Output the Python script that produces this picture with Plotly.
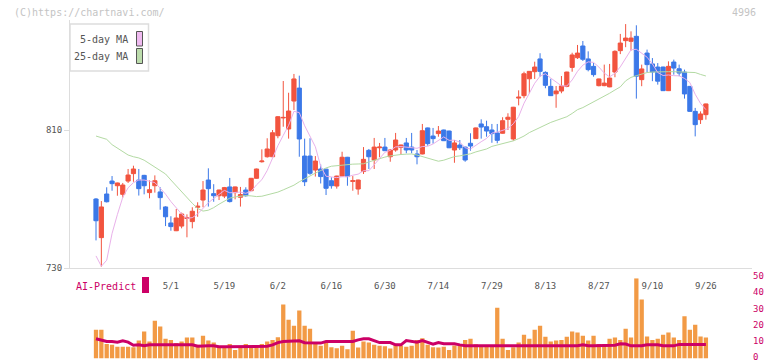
import plotly.graph_objects as go

# ---------------- data ----------------
trade_days = {
    4: [10, 11, 14, 15, 16, 17, 18, 21, 22, 23, 24, 25, 28, 30],
    5: [1, 2, 7, 8, 9, 12, 13, 14, 15, 16, 19, 20, 21, 22, 23, 26, 27, 28, 29, 30],
    6: [2, 3, 4, 5, 6, 9, 10, 11, 12, 13, 16, 17, 18, 19, 20, 23, 24, 25, 26, 27, 30],
    7: [1, 2, 3, 4, 7, 8, 9, 10, 11, 14, 15, 16, 17, 18, 22, 23, 24, 25, 28, 29, 30, 31],
    8: [1, 4, 5, 6, 7, 8, 12, 13, 14, 15, 18, 19, 20, 21, 22, 25, 26, 27, 28, 29],
    9: [1, 2, 3, 4, 5, 8, 9, 10, 11, 12, 16, 17, 18, 19, 22, 24, 25, 26],
}
dates = [f"{m}/{d}" for m, days in trade_days.items() for d in days]

tick_labels = ["5/1", "5/19", "6/2", "6/16", "6/30", "7/14", "7/29", "8/13", "8/27", "9/10", "9/26"]

open_ = [770, 747.6, 772.9, 780.4, 777.7, 772.7, 780.4, 784.7, 781, 783.7,
         773.7, 777.7, 774.1, 765.4, 756.1, 751.6, 754.3, 758.7, 756.9, 765.2,
         769.4, 781, 773.1, 771.9, 771.7, 777, 773.7, 771, 775.2, 774.8,
         782, 791.6, 794.5, 794.5, 806.7, 817, 810.6, 826.8, 834.3, 794.9,
         794.9, 786.8, 787.4, 787.3, 780.6, 777.5, 783.3, 794.2, 780.2, 775.8,
         785.9, 798.2, 792.6, 799.7, 800.1, 794.5, 798.4, 800, 802.5, 800.1,
         796.1, 796.1, 811.2, 806.5, 807.9, 810, 809.4, 798.4, 801.3, 800.1,
         802.3, 805, 813.5, 811.9, 810, 808.3, 808.1, 816.2, 804.8, 828.5,
         829.9, 839.7, 843.8, 851.2, 843.4, 835.3, 831, 832.6, 835.3, 846.3,
         851.9, 858.7, 851.2, 846.9, 835.7, 835.7, 835, 843.6, 856, 861.8,
         861.4, 864.3, 839.2, 854.6, 848.3, 846.5, 846.5, 832.8, 849.4, 845.5,
         843.6, 835.3, 820.8, 816, 818.9]
high = [770.5, 768.8, 776.8, 783.3, 779.5, 779.3, 787.4, 789.3, 787.4, 784,
        780.8, 783.7, 776.8, 765.8, 760, 764.2, 762.1, 761.1, 765.2, 768.1,
        780.4, 787.8, 778.6, 775.4, 777, 782.2, 777.2, 777, 776.8, 782.2,
        787.6, 798.8, 805.2, 810, 818.1, 838.4, 831.6, 842.5, 841.5, 805,
        805.2, 794.9, 790, 787.5, 782.6, 783.5, 797.4, 794.4, 783.3, 781.2,
        800.1, 799, 805.4, 802.5, 805.4, 799, 808.3, 801.5, 805.4, 808.3,
        798.4, 813.5, 811.4, 811.2, 812.3, 810.2, 809.6, 804.2, 804.2, 800.3,
        808.1, 811.4, 816.2, 815.4, 813.5, 813.5, 817.4, 819.7, 823.4, 833,
        843.8, 844.2, 849.6, 854.5, 844, 839.7, 835.5, 841.3, 843.8, 854.8,
        859.3, 861.6, 855.6, 848.8, 839.8, 847.9, 848.3, 856.2, 865.7, 871.4,
        867.2, 870.7, 847.9, 856.6, 851.7, 848.8, 846.7, 849.8, 850.8, 847.9,
        845, 835.5, 822.8, 820.8, 825.3]
low = [746, 730.8, 768, 774.8, 771.9, 770.8, 779.3, 780, 772, 772.7,
       770.4, 773.7, 763.8, 754.3, 751.6, 751.4, 753, 747.8, 753, 759.7,
       765.2, 765.6, 768.4, 769.4, 770.5, 768, 769.8, 765.6, 771.4, 774.6,
       781.8, 791.1, 794, 794.3, 805.2, 811.9, 805, 821.6, 794.5, 777.5,
       784, 783, 779, 772.3, 776, 776, 783, 777.7, 774.8, 772.5,
       784.5, 787.4, 787.4, 794.2, 797.8, 791.6, 797.4, 795.7, 796.5, 796.5,
       790.1, 795.9, 800.9, 802.1, 806.1, 803.6, 799.5, 791, 798.4, 791.6,
       798, 804.8, 805, 806.1, 802.6, 802.3, 807.9, 810, 803.8, 824.3,
       828.4, 831.3, 839.6, 840.9, 834.2, 829.7, 822.9, 831.3, 834.8, 843.8,
       851.2, 850, 844, 840.9, 835.3, 835.4, 834.8, 840.6, 854, 858,
       856, 828.2, 835.4, 843.6, 838.3, 836.3, 832.6, 832.6, 842.1, 841.2,
       828.2, 820.6, 806.3, 813.5, 816]
close = [757.4, 765.4, 768.4, 778.9, 779.3, 778.1, 783.9, 787.4, 776, 777.7,
         775.4, 780.6, 770.8, 759.7, 754, 759, 761.3, 759.2, 762.9, 765.8,
         775.2, 776, 771.9, 775.2, 776.6, 768.5, 777, 772.6, 771.9, 782,
         787.4, 792, 799, 808.4, 817.7, 817.3, 821, 839.6, 804.8, 780,
         784.9, 792, 783, 776.2, 777.7, 783.3, 794.2, 783, 780.6, 781,
         793, 794.5, 800.1, 800.1, 798, 798.4, 804.2, 801.3, 798.4, 798.4,
         794.5, 809.6, 802.1, 805, 809.4, 803.8, 799.7, 802.5, 799.7, 792.6,
         800.7, 811.2, 811.7, 809.4, 807.9, 804, 815.4, 817.4, 823.2, 829,
         842.6, 844, 846.5, 844, 835.9, 829.9, 832.6, 835.5, 843.6, 853.5,
         854.6, 851, 845, 842.1, 839.6, 837.2, 840.1, 855.6, 860.4, 863.3,
         863.3, 841.2, 845.4, 847.9, 843.6, 838.3, 832.8, 846.9, 845.9, 843,
         830.9, 820.8, 813.1, 819.3, 825.1]

ma5 = [737, 731, 734.5, 750, 761, 771, 776.5, 779.5, 781, 781,
       780.3, 779.5, 776.3, 772.8, 768.5, 765, 761.3, 758.8, 759.2, 761.3,
       764.7, 767.8, 770.3, 772.8, 775, 773.6, 773.8, 774, 773.3, 774.4,
       778.2, 781.2, 786.5, 793.8, 800.9, 806.9, 812.7, 820.8, 820.1, 812.5,
       806.1, 800.3, 788.9, 783.2, 782.8, 782.4, 782.9, 782.9, 783.8, 784.4,
       786.4, 786.4, 789.8, 793.7, 797.1, 798.2, 800.2, 800.4, 800.1, 800.1,
       799.4, 800.4, 800.6, 801.9, 804.1, 806, 804, 804.1, 803, 799.7,
       799, 801.3, 803.2, 805.1, 808.2, 808.8, 809.7, 810.8, 813.6, 817.8,
       825.5, 831.2, 837.1, 841.2, 842.6, 840.1, 837.8, 835.6, 835.5, 839,
       844, 847.6, 849.5, 849.2, 846.5, 843, 840.8, 842.9, 846.6, 851.3,
       856.5, 856.8, 854.7, 852.2, 848.3, 843.3, 841.6, 841.9, 841.5, 841.4,
       839.9, 837.5, 830.7, 825.4, 821.8]
ma25 = [806.5, 805.5, 804.6, 801.5, 799.5, 797.5, 795.5, 794.5, 793.8, 792.5,
        790.5, 788.5, 786.5, 784.5, 781, 777.5, 774, 771, 767.5, 764.5,
        763, 763.5, 765, 767, 769, 770.5, 771.2, 771.8, 772, 771.8,
        771.4, 771.6, 772.3, 773, 774, 775.3, 776.5, 778, 780, 781.8,
        783.3, 785, 786.5, 788, 789, 789.4, 789.8, 790.1, 790.2, 790.3,
        790.4, 791.5, 792.5, 793.5, 794.3, 795, 795.5, 795.8, 796, 796.1,
        795.5, 794.5, 793.6, 792.5, 791.9, 792.5, 793.7, 794.6, 795, 795.5,
        796.2, 797.3, 798, 799, 800.5, 801.3, 802.2, 802.8, 803.7, 805,
        806.5, 808.5, 810, 811.3, 812.7, 814.4, 815.5, 816.6, 817.7, 819.6,
        821.8, 823, 824.6, 826.3, 827.8, 829.5, 831.3, 833.2, 835, 838.5,
        840.5, 841.5, 842.6, 843.3, 843.6, 843.8, 843.8, 843.8, 843.8, 843.6,
        843.4, 843.4, 843.3, 842.2, 841.3]

volume = [17.9, 17.9, 9.1, 8.5, 7.4, 7.4, 7.4, 7.0, 11.2, 16.9,
          10.6, 23.6, 20, 12.3, 11.6, 9.6, 10.6, 13.1, 13.1, 8.5,
          14.2, 11.2, 9.9, 7.4, 7.4, 9.1, 5.3, 7.4, 9.1, 7.9,
          7.9, 9.1, 10.6, 11.6, 13.3, 33.6, 24.2, 20.4, 29.9, 20.4,
          18.6, 9.1, 7.9, 9.9, 7.0, 6.4, 7.9, 5.8, 17.3, 6.8,
          10.6, 9.9, 8.5, 7.9, 7.6, 6.2, 9.2, 8.1, 7.4, 7.9,
          11.6, 12.7, 8.5, 7.0, 6.8, 7.4, 5.3, 8.1, 8.1, 11.6,
          12.3, 8.9, 7.9, 7.4, 7.4, 31.6, 12.3, 5.3, 7.0, 9.9,
          14.8, 12.3, 17.9, 20.4, 13.5, 10.6, 11.2, 11.6, 13.5, 16.9,
          16.2, 14.2, 11.2, 14.2, 9.1, 9.1, 12.3, 13.1, 11.6, 18.6,
          13.1, 50, 36.8, 13.7, 11.6, 12.3, 14.8, 16.2, 13.1, 11.6,
          26.3, 17.9, 21.1, 13.7, 13.1]

ai_predict = [12.3, 11.5, 10.6, 10.6, 10.2, 11.0, 10.2, 8.3, 8.5, 7.9,
              8.5, 8.5, 8.5, 8.5, 8.5, 8.5, 8.5, 8.5, 8.5, 7.6,
              7.9, 7.9, 7.9, 7.4, 7.4, 7.4, 7.4, 7.4, 7.4, 7.4,
              7.4, 7.4, 7.6, 8.5, 9.9, 10.6, 10.6, 10.6, 11.0, 9.8,
              9.6, 9.6, 9.6, 10.6, 10.6, 10.6, 10.6, 10.6, 10.6, 11.6,
              12.3, 12.3, 11.0, 9.9, 9.9, 9.9, 8.5, 8.5, 11.2, 10.6,
              10.2, 11.2, 10.2, 8.9, 10.0, 9.2, 9.2, 9.2, 8.5, 7.9,
              7.9, 7.9, 7.9, 7.9, 7.9, 7.9, 7.9, 7.9, 7.9, 7.9,
              7.9, 7.9, 7.9, 7.9, 7.9, 7.9, 7.9, 7.9, 7.9, 7.9,
              7.9, 8.5, 7.9, 7.9, 7.9, 7.9, 7.9, 8.3, 9.2, 9.0,
              7.9, 7.9, 7.9, 8.5, 8.5, 8.5, 7.9, 7.9, 7.9, 8.8,
              8.8, 8.8, 8.8, 8.8, 8.8]

# ---------------- layout helpers ----------------
W, H = 772, 361
ML, MR, MT, MB = 70, 20, 20, 0
PW, PH = W - ML - MR, H - MT - MB


def px(x):
    return (x - ML) / PW


def py(y):
    return (H - MB - y) / PH


FONT = "DejaVu Sans Mono"
UP, DOWN = "#f2543f", "#3b78e8"
MA5_C, MA25_C = "#e9b1ea", "#b3daa3"
VOL_C, AI_C = "#f29a45", "#cc0066"
AXIS_C = "#dddddd"

xr = [(ML - 96) / 5.35, (W - MR - 96) / 5.35]

fig = go.Figure()
fig.add_trace(go.Scatter(x=dates, y=ma25, mode="lines", line=dict(color=MA25_C, width=1),
                         xaxis="x", yaxis="y", hoverinfo="skip"))
fig.add_trace(go.Scatter(x=dates, y=ma5, mode="lines", line=dict(color=MA5_C, width=1),
                         xaxis="x", yaxis="y", hoverinfo="skip"))
fig.add_trace(go.Candlestick(
    x=dates, open=open_, high=high, low=low, close=close,
    increasing=dict(line=dict(color=UP, width=1), fillcolor=UP),
    decreasing=dict(line=dict(color=DOWN, width=1), fillcolor=DOWN),
    whiskerwidth=0, xaxis="x", yaxis="y"))
fig.add_trace(go.Bar(x=dates, y=volume, marker=dict(color=VOL_C, line=dict(width=0)),
                     xaxis="x2", yaxis="y2"))
fig.add_trace(go.Scatter(x=dates, y=ai_predict, mode="lines",
                         line=dict(color=AI_C, width=3),
                         xaxis="x2", yaxis="y2"))

tick_font = dict(family=FONT, size=9, color="#555555")
yr = [730, 810 + 110 / 1.725]
common = dict(automargin=False, showgrid=False, zeroline=False)

fig.update_layout(
    template="none",
    width=W, height=H,
    margin=dict(l=ML, r=MR, t=MT, b=MB, pad=0, autoexpand=False),
    paper_bgcolor="white", plot_bgcolor="white",
    showlegend=False,
    boxgap=0.22, boxgroupgap=0,
    bargap=0.2,
    font=dict(family=FONT, size=10, color="#555555"),
    xaxis=dict(type="category", range=xr, domain=[0, 1], anchor="y",
               tickvals=tick_labels, ticktext=tick_labels,
               ticks="outside", ticklen=9, tickcolor="rgba(0,0,0,0)",
               showline=True, linecolor=AXIS_C, linewidth=1,
               tickfont=tick_font, rangeslider=dict(visible=False), **common),
    xaxis3=dict(range=[0, 11], overlaying="x", anchor="y", tickvals=list(range(12)),
                ticks="outside", ticklen=5, tickcolor=AXIS_C, tickwidth=1,
                showticklabels=False, showline=False, **common),
    xaxis4=dict(range=[0, 11], overlaying="x", anchor="y", tickvals=list(range(12)),
                ticks="inside", ticklen=3, tickcolor=AXIS_C, tickwidth=1,
                showticklabels=False, showline=False, **common),
    yaxis=dict(range=yr, domain=[py(268), 1.0], anchor="x",
               tickvals=[730, 810], ticks="outside", ticklen=5, tickcolor=AXIS_C,
               showline=True, linecolor=AXIS_C, linewidth=1,
               tickfont=tick_font, ticklabeloverflow="allow", **common),
    yaxis3=dict(range=yr, overlaying="y", anchor="x",
                tickvals=[810], ticks="inside", ticklen=3, tickcolor=AXIS_C,
                showticklabels=False, showline=False, **common),
    xaxis2=dict(type="category", range=xr, domain=[0, 1], anchor="y2",
                showticklabels=False, ticks="", showline=False, **common),
    yaxis2=dict(range=[0, 50], domain=[py(358.5), py(278.3)], anchor="x2", side="right",
                tickvals=[0, 10, 20, 30, 40, 50], ticks="", showline=False,
                ticklabeloverflow="allow", ticklabelshift=-2,
                tickfont=dict(family=FONT, size=9, color=AI_C), **common),
)

shapes = [
    # legend box
    dict(type="rect", xref="paper", yref="paper", x0=px(70), x1=px(148.5),
         y0=py(71), y1=py(24), line=dict(color=AXIS_C, width=1.5), fillcolor="white",
         layer="above"),
    dict(type="rect", xref="paper", yref="paper", x0=px(136.5), x1=px(142.5),
         y0=py(46), y1=py(31.5), line=dict(color="#555555", width=1), fillcolor="#efbaf0",
         layer="above"),
    dict(type="rect", xref="paper", yref="paper", x0=px(136.5), x1=px(142.5),
         y0=py(63.5), y1=py(48.5), line=dict(color="#555555", width=1), fillcolor="#bcdcac",
         layer="above"),
    # AI-Predict marker
    dict(type="rect", xref="paper", yref="paper", x0=px(142), x1=px(149),
         y0=py(293), y1=py(277), line=dict(width=0), fillcolor=AI_C, layer="above"),
]

annotations = [
    dict(text="(C)https://chartnavi.com/", xref="paper", yref="paper", x=px(12), y=py(12),
         xanchor="left", yanchor="middle", showarrow=False,
         font=dict(family=FONT, size=10, color="#c4c4c4")),
    dict(text="4996", xref="paper", yref="paper", x=px(758), y=py(12),
         xanchor="right", yanchor="middle", showarrow=False,
         font=dict(family=FONT, size=10, color="#c4c4c4")),
    dict(text="5-day MA", xref="paper", yref="paper", x=px(130), y=py(39.5),
         xanchor="right", yanchor="middle", showarrow=False,
         font=dict(family=FONT, size=10, color="#555555")),
    dict(text="25-day MA", xref="paper", yref="paper", x=px(130), y=py(56.5),
         xanchor="right", yanchor="middle", showarrow=False,
         font=dict(family=FONT, size=10, color="#555555")),
    dict(text="AI-Predict", xref="paper", yref="paper", x=px(74), y=py(286),
         xanchor="left", yanchor="middle", showarrow=False,
         font=dict(family=FONT, size=10, color=AI_C)),
]

fig.update_layout(shapes=shapes, annotations=annotations)
fig.write_html(
    "out.html",
    config={"displayModeBar": False, "staticPlot": True},
    post_script="document.body.style.margin='0';document.body.style.padding='0';"
                "document.documentElement.style.overflow='hidden';",
)
